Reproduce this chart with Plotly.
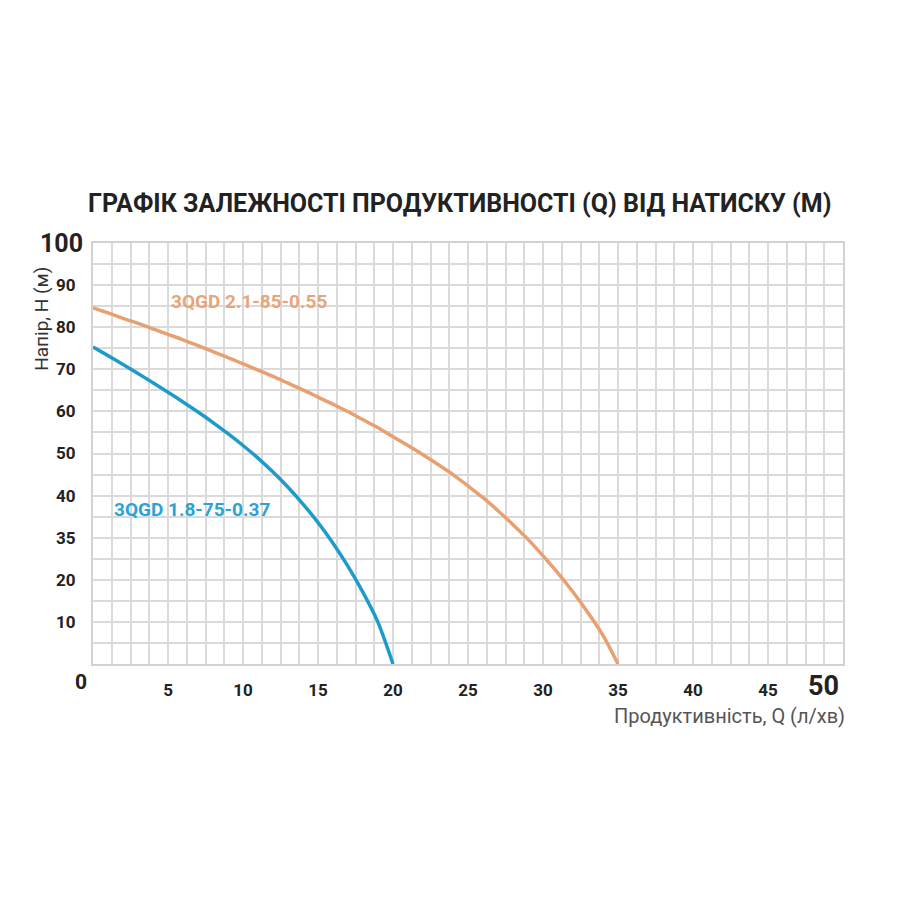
import plotly.graph_objects as go

# Data
q_blue = [0, 1, 2, 3, 4, 5, 6, 7, 8, 9, 10, 11, 12, 13, 14, 15, 16, 17, 18, 19, 20]
h_blue = [75.3, 73.25, 71.15, 69.0, 66.8, 64.55, 62.25, 59.85, 57.35, 54.7, 51.9,
          48.9, 45.6, 42.0, 38.0, 33.6, 28.7, 23.2, 17.0, 9.9, 0]
q_orange = [0, 1, 2, 3, 4, 5, 6, 7, 8, 9, 10, 11, 12, 13, 14, 15, 16, 17,
            18, 19, 20, 21, 22, 23, 24, 25, 26, 27, 28, 29, 30, 31, 32, 33, 34, 35]
h_orange = [84.6, 83.4, 82.1, 80.9, 79.6, 78.3, 77.0, 75.6, 74.2, 72.8, 71.3, 69.8,
            68.3, 66.7, 65.1, 63.4, 61.7, 59.9, 58.0, 56.1, 54.0, 51.9, 49.7, 47.4,
            45.0, 42.3, 39.5, 36.4, 33.1, 29.6, 25.7, 21.6, 17.1, 12.2, 6.8, 0]

name_blue = "3QGD 1.8-75-0.37"
name_orange = "3QGD 2.1-85-0.55"

x_tickvals = [5, 10, 15, 20, 25, 30, 35, 40, 45]
x_ticktext = ["5", "10", "15", "20", "25", "30", "35", "40", "45"]
y_tickvals = [10, 20, 30, 40, 50, 60, 70, 80, 90]
y_ticktext = ["10", "20", "35", "40", "50", "60", "70", "80", "90"]

title_text = "ГРАФІК ЗАЛЕЖНОСТІ ПРОДУКТИВНОСТІ (Q) ВІД НАТИСКУ (М)"
x_title = "Продуктивність, Q (л/хв)"
y_title = "Напір, Н (м)"

c_blue = "#1f9bcb"
c_orange = "#e9a070"
grid_c = "#dadada"
font_fam = "Roboto, 'Liberation Sans', sans-serif"

fig = go.Figure()
fig.add_trace(go.Scatter(x=q_orange, y=h_orange, mode="lines",
                         line=dict(color=c_orange, width=3.5, shape="spline", smoothing=0.8),
                         name=name_orange, showlegend=False))
fig.add_trace(go.Scatter(x=q_blue, y=h_blue, mode="lines",
                         line=dict(color=c_blue, width=3.5, shape="spline", smoothing=0.8),
                         name=name_blue, showlegend=False))

ann = [
    dict(x=10.4, y=86, text="<b>" + name_orange + "</b>", showarrow=False,
         font=dict(family=font_fam, size=19, color="#e8a57a")),
    dict(x=6.6, y=36.8, text="<b>" + name_blue + "</b>", showarrow=False,
         font=dict(family=font_fam, size=19, color="#2aa3d6")),
    dict(x=0, y=100, xref="x", yref="y", text="<b>100</b>", showarrow=False,
         xanchor="right", xshift=-8, font=dict(family=font_fam, size=25, color="#222")),
    dict(x=0, y=0, xref="x", yref="y", text="<b>0</b>", showarrow=False,
         xanchor="right", yshift=-18, xshift=-4, font=dict(family=font_fam, size=21, color="#222")),
    dict(x=50, y=0, xref="x", yref="y", text="<b>50</b>", showarrow=False,
         xanchor="right", yshift=-22, xshift=-2, font=dict(family=font_fam, size=27, color="#222")),
    dict(x=1, y=0, xref="paper", yref="paper", text=x_title, showarrow=False,
         xanchor="right", yanchor="middle", yshift=-52, xshift=4,
         font=dict(family=font_fam, size=20, color="#555")),
    dict(x=0, y=82, xref="paper", yref="y", text=y_title, showarrow=False, textangle=-90,
         xanchor="center", yanchor="middle", xshift=-51,
         font=dict(family=font_fam, size=19, color="#333")),
]

fig.update_layout(
    width=900, height=900,
    paper_bgcolor="white", plot_bgcolor="white",
    margin=dict(l=85, r=65, t=235, b=244),
    title=dict(text="<b>" + title_text + "</b>", x=0.502, xanchor="center", y=0.783, yanchor="middle",
               font=dict(family=font_fam, size=25, color="#222")),
    annotations=ann,
    xaxis=dict(range=[0, 50], tickvals=x_tickvals, ticktext=x_ticktext, automargin=False,
               tickfont=dict(family=font_fam, size=17, color="#222", weight="bold"),
               ticks="outside", ticklen=10, tickcolor="rgba(0,0,0,0)",
               showgrid=True, gridcolor=grid_c, gridwidth=2,
               minor=dict(dtick=1.25, showgrid=True, gridcolor=grid_c, gridwidth=2),
               showline=True, linecolor="#d2d2d2", linewidth=2, mirror=True, zeroline=False),
    yaxis=dict(range=[0, 100], tickvals=y_tickvals, ticktext=y_ticktext, automargin=False,
               tickfont=dict(family=font_fam, size=17, color="#222", weight="bold"),
               ticks="outside", ticklen=12, tickcolor="rgba(0,0,0,0)",
               showgrid=True, gridcolor=grid_c, gridwidth=2,
               minor=dict(dtick=5, showgrid=True, gridcolor=grid_c, gridwidth=2),
               showline=True, linecolor="#d2d2d2", linewidth=2, mirror=True, zeroline=False),
)

fig.write_html("out.html")
